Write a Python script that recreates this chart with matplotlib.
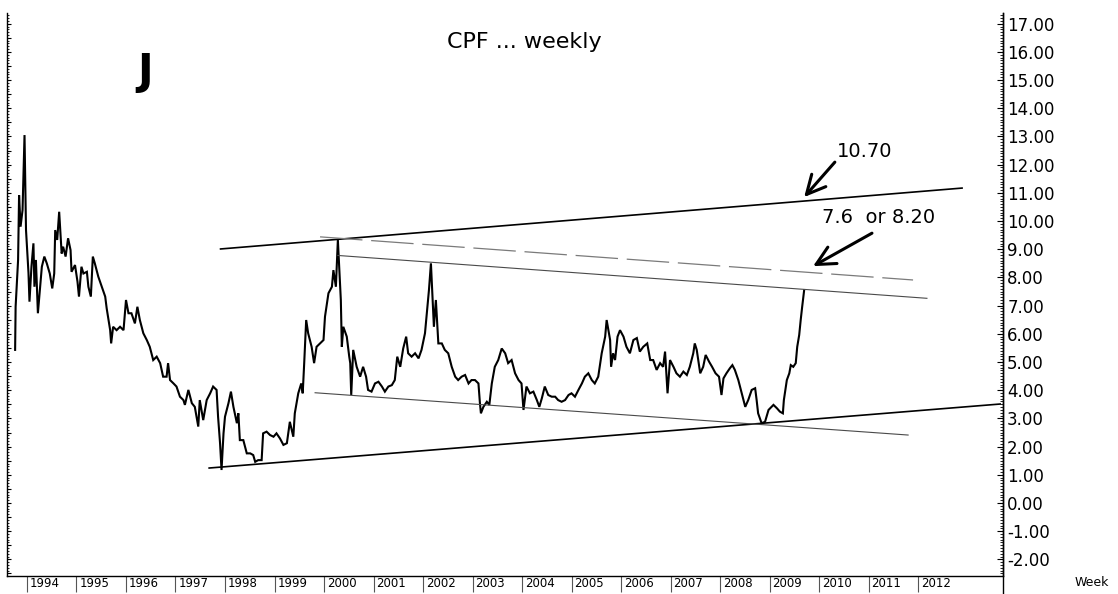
import matplotlib
matplotlib.use('Agg')
from matplotlib import pyplot as plt
from matplotlib.ticker import MultipleLocator, FormatStrFormatter

plt.rcParams['axes.unicode_minus'] = False
plt.rcParams['font.family'] = ['DejaVu Sans']

# weekly closes (decimal year, price)
weeks = [
    1993.76, 1993.77, 1993.82, 1993.84, 1993.87, 1993.91, 1993.95, 1993.98,
    1994.03, 1994.05, 1994.09, 1994.13, 1994.15, 1994.18, 1994.22, 1994.26,
    1994.30, 1994.35, 1994.40, 1994.46, 1994.51, 1994.55, 1994.57, 1994.61,
    1994.65, 1994.70, 1994.73, 1994.78, 1994.83, 1994.88, 1994.90, 1994.97,
    1995.02, 1995.05, 1995.10, 1995.14, 1995.21, 1995.24, 1995.29, 1995.33,
    1995.37, 1995.44, 1995.51, 1995.58, 1995.61, 1995.68, 1995.70, 1995.74,
    1995.81, 1995.88, 1995.95, 1996.00, 1996.05, 1996.11, 1996.18, 1996.23,
    1996.28, 1996.35, 1996.42, 1996.48, 1996.55, 1996.62, 1996.69, 1996.75,
    1996.82, 1996.85, 1996.89, 1996.96, 1997.02, 1997.09, 1997.16, 1997.19,
    1997.26, 1997.33, 1997.39, 1997.46, 1997.49, 1997.56, 1997.63, 1997.70,
    1997.76, 1997.83, 1997.86, 1997.90, 1997.93, 1997.97, 1998.00, 1998.07,
    1998.12, 1998.17, 1998.24, 1998.27, 1998.30, 1998.37, 1998.44, 1998.51,
    1998.57, 1998.61, 1998.67, 1998.74, 1998.77, 1998.84, 1998.91, 1998.98,
    1999.04, 1999.11, 1999.18, 1999.25, 1999.31, 1999.38, 1999.41, 1999.48,
    1999.54, 1999.57, 1999.60, 1999.64, 1999.68, 1999.75, 1999.80, 1999.85,
    1999.92, 1999.99, 2000.02, 2000.09, 2000.16, 2000.19, 2000.24, 2000.28,
    2000.31, 2000.34, 2000.36, 2000.39, 2000.46, 2000.51, 2000.53, 2000.55,
    2000.59, 2000.66, 2000.73, 2000.79, 2000.85, 2000.89, 2000.96, 2001.03,
    2001.10, 2001.17, 2001.23, 2001.30, 2001.37, 2001.43, 2001.48, 2001.54,
    2001.60, 2001.66, 2001.70, 2001.77, 2001.84, 2001.91, 2001.97, 2002.04,
    2002.09, 2002.12, 2002.16, 2002.20, 2002.22, 2002.26, 2002.31, 2002.38,
    2002.44, 2002.51, 2002.58, 2002.65, 2002.71, 2002.78, 2002.85, 2002.92,
    2002.98, 2003.05, 2003.12, 2003.15, 2003.17, 2003.22, 2003.29, 2003.34,
    2003.39, 2003.45, 2003.52, 2003.59, 2003.66, 2003.72, 2003.79, 2003.86,
    2003.93, 2003.99, 2004.03, 2004.09, 2004.16, 2004.23, 2004.30, 2004.35,
    2004.40, 2004.46, 2004.53, 2004.60, 2004.67, 2004.73, 2004.80, 2004.87,
    2004.94, 2005.00, 2005.07, 2005.14, 2005.21, 2005.27, 2005.34, 2005.41,
    2005.47, 2005.54, 2005.61, 2005.68, 2005.71, 2005.78, 2005.80, 2005.84,
    2005.88, 2005.93, 2005.98, 2006.05, 2006.11, 2006.18, 2006.25, 2006.32,
    2006.38, 2006.45, 2006.53, 2006.59, 2006.65, 2006.72, 2006.79, 2006.85,
    2006.89, 2006.94, 2006.99, 2007.06, 2007.12, 2007.19, 2007.26, 2007.33,
    2007.39, 2007.46, 2007.49, 2007.53, 2007.60, 2007.66, 2007.71, 2007.78,
    2007.84, 2007.91, 2007.98, 2008.03, 2008.07, 2008.13, 2008.20, 2008.25,
    2008.30, 2008.37, 2008.44, 2008.51, 2008.57, 2008.64, 2008.71, 2008.74,
    2008.77, 2008.84, 2008.91, 2008.98, 2009.08, 2009.15, 2009.21, 2009.27,
    2009.29, 2009.35, 2009.40, 2009.43, 2009.48, 2009.53, 2009.56, 2009.60,
    2009.63, 2009.66, 2009.70,
]
close = [
    5.43, 6.96, 8.62, 10.92, 9.80, 10.39, 13.05, 9.68,
    8.16, 7.14, 8.38, 9.21, 7.67, 8.62, 6.73, 7.55,
    8.38, 8.74, 8.50, 8.14, 7.61, 8.14, 9.68, 9.33,
    10.33, 8.85, 9.09, 8.74, 9.39, 8.97, 8.20, 8.44,
    7.85, 7.32, 8.38, 8.14, 8.20, 7.67, 7.32, 8.74,
    8.50, 8.03, 7.67, 7.32, 6.90, 6.13, 5.66, 6.25,
    6.13, 6.25, 6.13, 7.20, 6.73, 6.73, 6.37, 6.96,
    6.49, 6.02, 5.78, 5.54, 5.07, 5.19, 4.96, 4.48,
    4.48, 4.96, 4.36, 4.24, 4.13, 3.77, 3.65, 3.48,
    4.01, 3.54, 3.41, 2.71, 3.65, 2.94, 3.65, 3.89,
    4.13, 4.01, 3.06, 2.12, 1.17, 2.47, 3.06, 3.54,
    3.95, 3.41, 2.83, 3.18, 2.23, 2.23, 1.76, 1.76,
    1.70, 1.46, 1.52, 1.52, 2.47, 2.53, 2.41, 2.35,
    2.47, 2.29, 2.06, 2.12, 2.88, 2.35, 3.18, 3.89,
    4.24, 3.89, 4.96, 6.49, 6.02, 5.54, 4.96, 5.54,
    5.66, 5.78, 6.61, 7.44, 7.67, 8.26, 7.67, 9.33,
    8.26, 7.20, 5.54, 6.25, 5.90, 5.19, 4.96, 3.83,
    5.43, 4.83, 4.48, 4.83, 4.48, 4.01, 3.95, 4.24,
    4.30, 4.13, 3.95, 4.13, 4.18, 4.36, 5.19, 4.83,
    5.48, 5.90, 5.31, 5.19, 5.31, 5.13, 5.43, 6.02,
    6.96, 7.55, 8.50, 6.96, 6.25, 7.20, 5.66, 5.66,
    5.43, 5.31, 4.83, 4.48, 4.36, 4.48, 4.54, 4.24,
    4.36, 4.36, 4.24, 3.54, 3.18, 3.41, 3.59, 3.48,
    4.24, 4.83, 5.07, 5.48, 5.31, 4.96, 5.07, 4.60,
    4.36, 4.24, 3.30, 4.13, 3.89, 3.95, 3.65, 3.41,
    3.71, 4.13, 3.83, 3.77, 3.77, 3.65, 3.59, 3.65,
    3.83, 3.89, 3.77, 4.01, 4.24, 4.48, 4.60, 4.36,
    4.24, 4.48, 5.31, 5.90, 6.49, 5.78, 4.83, 5.31,
    5.07, 5.90, 6.13, 5.90, 5.54, 5.31, 5.78, 5.85,
    5.37, 5.54, 5.66, 5.07, 5.07, 4.72, 4.96, 4.83,
    5.37, 3.89, 5.07, 4.83, 4.60, 4.48, 4.66, 4.54,
    4.83, 5.31, 5.66, 5.43, 4.60, 4.83, 5.25, 5.01,
    4.83, 4.60, 4.48, 3.83, 4.42, 4.60, 4.78, 4.89,
    4.72, 4.36, 3.89, 3.41, 3.65, 4.01, 4.07, 3.65,
    3.18, 2.83, 2.88, 3.30, 3.48, 3.36, 3.24, 3.18,
    3.65, 4.36, 4.60, 4.89, 4.83, 4.96, 5.54, 5.96,
    6.49, 6.96, 7.55,
]

# trend lines drawn on the chart: [start, end] in (year, price)
upper_x, upper_y = [1997.91, 2012.89], [9.01, 11.17]
lower_x, lower_y = [1997.68, 2013.66], [1.24, 3.51]
chan_top_x, chan_top_y = [2000.28, 2012.18], [8.78, 7.26]
dash_x, dash_y = [1999.92, 2011.90], [9.44, 7.91]
chan_bot_x, chan_bot_y = [1999.82, 2011.80], [3.91, 2.41]

years = list(range(1994, 2013))
year_labels = [str(y) for y in years]

fig = plt.figure(figsize=(11.18, 5.94), dpi=100)
ax = fig.add_axes([7 / 1118, 18 / 594, 996 / 1118, 563 / 594])
ax.set_xlim(1993.596, 2013.717)
ax.set_ylim(-2.59, 17.38)

ax.plot(weeks, close, color='black', lw=1.5, solid_joinstyle='miter')

ax.plot(upper_x, upper_y, color='black', lw=1.2)
ax.plot(lower_x, lower_y, color='black', lw=1.2)
ax.plot(chan_top_x, chan_top_y, color='#4a4a4a', lw=0.8)
ax.plot(chan_bot_x, chan_bot_y, color='#4a4a4a', lw=0.8)
ax.plot(dash_x, dash_y, color='#7a7a7a', lw=0.9, dashes=(34, 7))

# annotations
arrow = dict(arrowstyle='->,head_length=0.9,head_width=0.45', lw=2.2,
             color='black', shrinkA=0, shrinkB=0, mutation_scale=15)
ax.annotate('', xy=(2009.70, 10.85), xytext=(2010.32, 12.09), arrowprops=arrow)
ax.annotate('', xy=(2009.88, 8.40), xytext=(2011.07, 9.57), arrowprops=arrow)
ax.text(2010.36, 12.45, '10.70', fontsize=14, ha='left', va='center')
ax.text(2010.06, 10.14, '7.6  or 8.20', fontsize=14, ha='left', va='center')
ax.text(2004.04, 16.35, 'CPF ... weekly', fontsize=16, ha='center', va='center')
ax.text(1996.38, 15.28, 'J', fontsize=30, fontweight='bold', ha='center', va='center')

# frame
ax.spines['top'].set_visible(False)
for side in ['left', 'right', 'bottom']:
    ax.spines[side].set_linewidth(1.0)
    ax.spines[side].set_color('black')

ax.yaxis.set_major_locator(MultipleLocator(0.5))
ax.yaxis.set_minor_locator(MultipleLocator(0.1))
ax.tick_params(axis='y', which='major', direction='in', length=3, width=0.8,
               left=True, right=False, labelleft=False)
ax.tick_params(axis='y', which='minor', direction='in', length=1.5, width=0.6,
               left=True, right=False)

ax.set_xticks(years)
ax.set_xticklabels([])
ax.tick_params(axis='x', which='major', direction='out', length=11.5, width=0.8,
               color='#555555')
for y, lab in zip(years, year_labels):
    ax.text(y + 0.06, -0.0125, lab, transform=ax.get_xaxis_transform(),
            fontsize=8.5, ha='left', va='center')

ax2 = ax.twinx()
ax2.set_ylim(ax.get_ylim())
ax2.patch.set_visible(False)
for side in ['top', 'left', 'bottom']:
    ax2.spines[side].set_visible(False)
ax2.spines['right'].set_linewidth(1.0)
ax2.spines['right'].set_bounds(-3.25, 17.38)
ax2.yaxis.set_major_locator(MultipleLocator(1.0))
ax2.yaxis.set_minor_locator(MultipleLocator(0.1))
ax2.yaxis.set_major_formatter(FormatStrFormatter('%.2f'))
ax2.tick_params(axis='y', which='major', direction='in', length=4, width=0.8,
                labelsize=12, pad=3)
ax2.tick_params(axis='y', which='minor', direction='in', length=2, width=0.6)
ax2.set_yticks([v for v in range(-2, 18)])

fig.text(1075 / 1118, 1 - 583 / 594, 'Week', fontsize=9, ha='left', va='center')

fig.savefig('out.png', dpi=100, facecolor='white')
